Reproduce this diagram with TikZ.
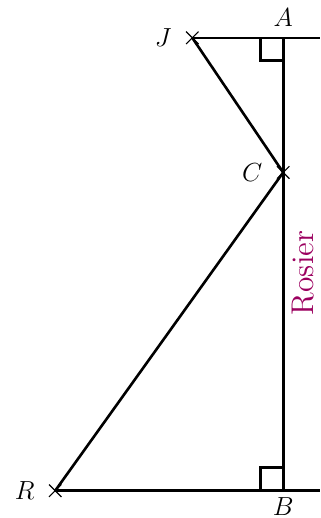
\documentclass[tikz,border=0pt]{standalone}
\usepackage{tikz}
\definecolor{rosiercol}{RGB}{155,0,95}

\begin{document}
\begin{tikzpicture}[line width=1.2pt,every node/.style={font=\large}]
  \useasboundingbox (0,0) rectangle (5.16,8.35);
  % points
  \coordinate (J) at (3.10,7.74);
  \coordinate (A) at (4.565,7.74);
  \coordinate (Aend) at (5.16,7.74);
  \coordinate (C) at (4.565,5.57);
  \coordinate (R) at (0.89,0.44);
  \coordinate (B) at (4.565,0.44);
  \coordinate (Bend) at (5.16,0.44);

  % segments
  \draw (J) -- (Aend);
  \draw (R) -- (Bend);
  \draw (A) -- (B);
  \draw (J) -- (C) -- (R);

  % right angles
  \draw ([xshift=-0.37cm]A) -- ++(0,-0.37) -- ++(0.37,0);
  \draw ([xshift=-0.37cm]B) -- ++(0,0.37) -- ++(0.37,0);

  % crosses
  \foreach \p in {J,C,R}
    \draw[line width=0.5pt] ([shift={(-0.1,-0.1)}]\p) -- ([shift={(0.1,0.1)}]\p)
      ([shift={(-0.1,0.1)}]\p) -- ([shift={(0.1,-0.1)}]\p);

  % labels
  \node at ([yshift=0.32cm]A) {$A$};
  \node at ([yshift=-0.26cm]B) {$B$};
  \node at ([xshift=-0.47cm]J) {$J$};
  \node at ([xshift=-0.5cm]C) {$C$};
  \node at ([xshift=-0.49cm]R) {$R$};
  \node[rotate=90,text=rosiercol,font=\Large] at (4.88,3.95) {Rosier};
\end{tikzpicture}
\end{document}
